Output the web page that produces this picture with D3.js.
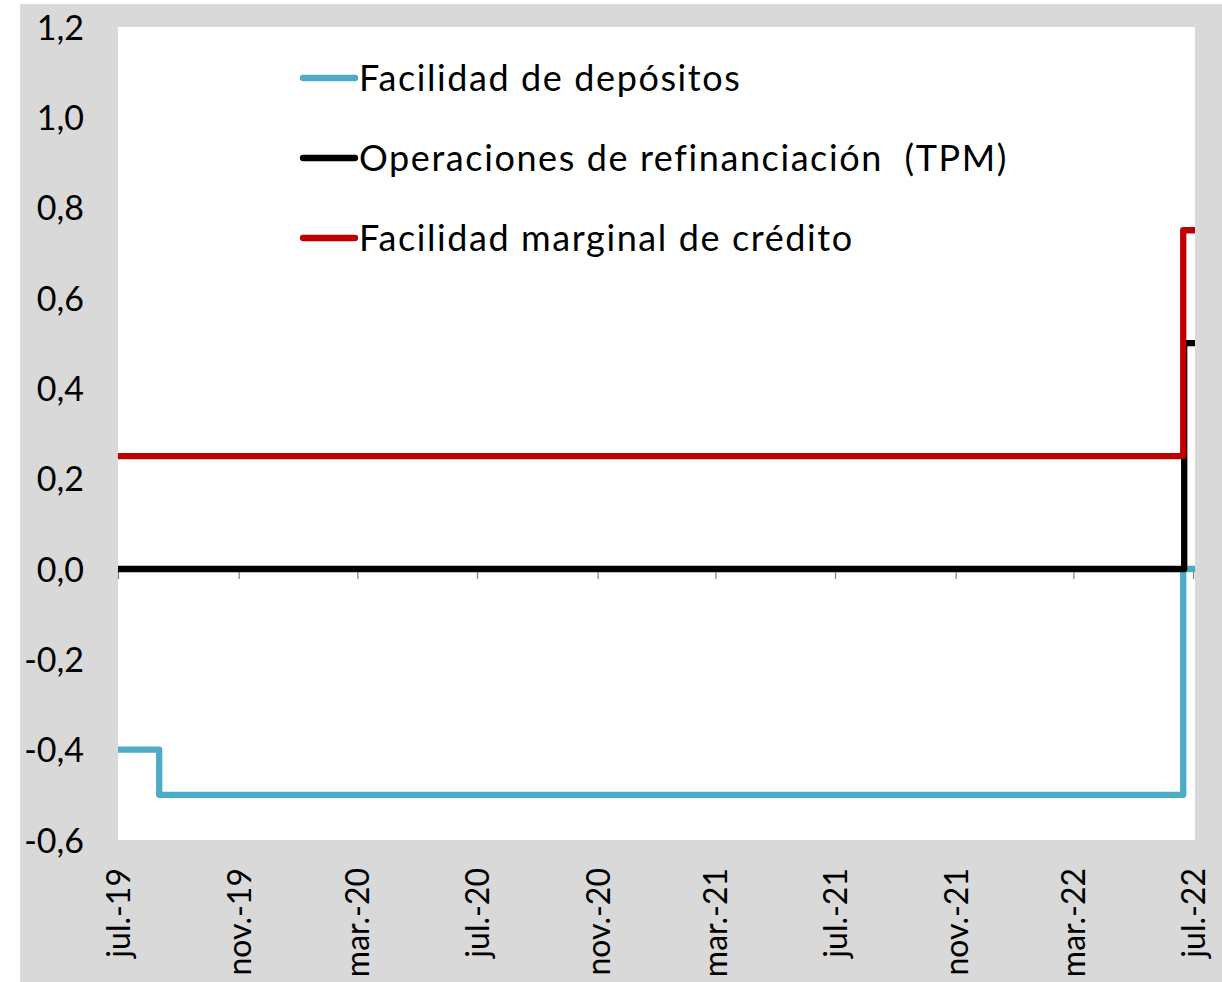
<!DOCTYPE html>
<html>
<head>
<meta charset="utf-8">
<script src="https://cdn.jsdelivr.net/npm/d3@7"></script>
<style>
  body { margin: 0; background: #fff; }
  svg text { font-family: Lato, "Open Sans", sans-serif; fill: #000; }
</style>
</head>
<body>
<div id="chart"></div>
<script>
// tipos del BCE (%)
var depositoFechas = ["2019-07-01", "2019-08-12", "2022-06-21", "2022-07-03"];
var depositoValores = [-0.4, -0.5, 0, 0];
var refinFechas = ["2019-07-01", "2022-06-22", "2022-07-03"];
var refinValores = [0, 0.5, 0.5];
var marginalFechas = ["2019-07-01", "2022-06-21", "2022-07-03"];
var marginalValores = [0.25, 0.75, 0.75];

var serieNombres = ["Facilidad de depósitos", "Operaciones de refinanciación  (TPM)", "Facilidad marginal de crédito"];
var serieColores = ["#4bacc6", "#000000", "#c00000"];

var xTickFechas = ["2019-07-01", "2019-11-01", "2020-03-01", "2020-07-01", "2020-11-01",
                   "2021-03-01", "2021-07-01", "2021-11-01", "2022-03-01", "2022-07-01"];
var xTickLabels = ["jul.-19", "nov.-19", "mar.-20", "jul.-20", "nov.-20",
                   "mar.-21", "jul.-21", "nov.-21", "mar.-22", "jul.-22"];
var yTicks = [-0.6, -0.4, -0.2, 0, 0.2, 0.4, 0.6, 0.8, 1.0, 1.2];

var width = 1222, height = 982;
var parse = d3.timeParse("%Y-%m-%d");

var svg = d3.select("#chart").append("svg")
    .attr("width", width)
    .attr("height", height);

svg.append("rect")
    .attr("x", 20).attr("y", 4)
    .attr("width", width - 20).attr("height", height - 4)
    .attr("fill", "#d9d9d9");

var plot = {left: 118, top: 27, right: 1195, bottom: 840};

svg.append("rect")
    .attr("x", plot.left).attr("y", plot.top)
    .attr("width", plot.right - plot.left).attr("height", plot.bottom - plot.top)
    .attr("fill", "#fff");

var x = d3.scaleTime()
    .domain([parse("2019-07-01"), parse("2022-07-03")])
    .range([plot.left, plot.right]);

var y = d3.scaleLinear()
    .domain([-0.6, 1.2])
    .range([plot.bottom, plot.top]);

var es = d3.formatLocale({decimal: ",", thousands: ".", grouping: [3], currency: ["", " €"], minus: "-"});
var fmt = es.format(".1f");

// eje Y
var yAxis = svg.append("g")
    .attr("transform", "translate(" + plot.left + ",0)")
    .call(d3.axisLeft(y).tickValues(yTicks).tickFormat(fmt).tickSize(0).tickPadding(34));
yAxis.select(".domain").remove();
yAxis.selectAll("text")
    .style("font-size", "34px")
    .attr("dy", "0.36em");

// eje X en el cero (marcas)
var xTickVals = xTickFechas.map(parse);
var xAxis0 = svg.append("g")
    .attr("transform", "translate(0," + y(0) + ")")
    .call(d3.axisBottom(x).tickValues(xTickVals).tickFormat("").tickSizeInner(10).tickSizeOuter(0));
xAxis0.select(".domain").attr("stroke", "#808080");
xAxis0.selectAll(".tick line").attr("stroke", "#808080").attr("stroke-width", 1.2);

// etiquetas del eje X abajo
var xAxis = svg.append("g")
    .attr("transform", "translate(0," + plot.bottom + ")")
    .call(d3.axisBottom(x).tickValues(xTickVals)
        .tickFormat(function(d, i) { return xTickLabels[i]; })
        .tickSize(0));
xAxis.select(".domain").remove();
xAxis.selectAll("text")
    .style("font-size", "32px")
    .attr("text-anchor", "end")
    .attr("transform", "rotate(-90)")
    .attr("x", -28)
    .attr("y", 0)
    .attr("dy", "0.36em");

// series
var series = [
  {fechas: depositoFechas, valores: depositoValores},
  {fechas: refinFechas, valores: refinValores},
  {fechas: marginalFechas, valores: marginalValores}
];

var line = d3.line()
    .x(function(d) { return x(d.fecha); })
    .y(function(d) { return y(d.valor); })
    .curve(d3.curveStepAfter);

series.forEach(function(s, i) {
  var datos = s.fechas.map(function(f, j) { return {fecha: parse(f), valor: s.valores[j]}; });
  svg.append("path")
      .datum(datos)
      .attr("d", line)
      .attr("fill", "none")
      .attr("stroke", serieColores[i])
      .attr("stroke-width", 6.3)
      .attr("stroke-linejoin", "round")
      .attr("stroke-linecap", "butt");
});

// leyenda
var legend = svg.append("g").attr("transform", "translate(300,78)");
serieNombres.forEach(function(n, i) {
  var row = legend.append("g").attr("transform", "translate(0," + (i * 80) + ")");
  row.append("line")
      .attr("x1", 3).attr("x2", 55)
      .attr("stroke", serieColores[i])
      .attr("stroke-width", 6.3)
      .attr("stroke-linecap", "round");
  row.append("text")
      .attr("x", 59)
      .attr("y", 0)
      .attr("dy", "0.36em")
      .style("font-size", "36px")
      .style("letter-spacing", "1.6px")
      .style("white-space", "pre")
      .text(n);
});
</script>
</body>
</html>
